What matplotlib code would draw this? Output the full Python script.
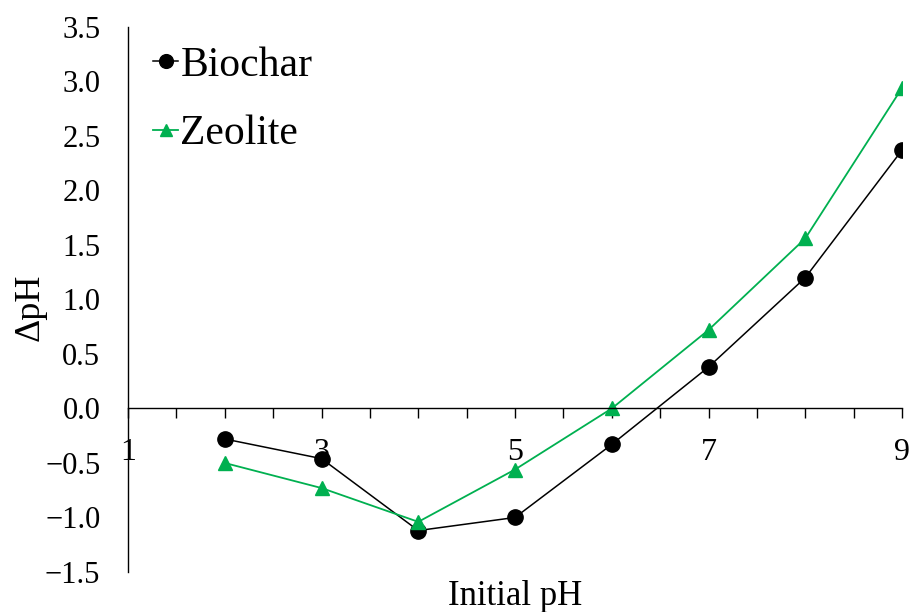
import matplotlib
matplotlib.use("Agg")
import matplotlib.pyplot as plt
from matplotlib.ticker import MultipleLocator, FuncFormatter

plt.rcParams['font.family'] = ['Liberation Serif', 'DejaVu Serif']

initial_ph = [2, 3, 4, 5, 6, 7, 8, 9]
biochar = [-0.28, -0.46, -1.12, -1.00, -0.33, 0.38, 1.20, 2.37]
zeolite = [-0.50, -0.73, -1.04, -0.56, 0.00, 0.72, 1.56, 2.94]
x_labels = [1, 3, 5, 7, 9]

green = '#00B050'

fig = plt.figure(figsize=(9.1, 6.12), dpi=100)
ax = fig.add_axes([0.1407, 0.0654, 0.8505, 0.8905])

ax.plot(initial_ph, biochar, color='black', lw=1.1, marker='o', ms=11,
        label='Biochar')
ax.plot(initial_ph, zeolite, color=green, lw=1.3, marker='^', ms=10,
        label='Zeolite')

ax.set_xlim(1, 9)
ax.set_ylim(-1.5, 3.5)

# horizontal axis sits on y = 0, vertical axis on the left
ax.spines['top'].set_visible(False)
ax.spines['right'].set_visible(False)
ax.spines['bottom'].set_position(('data', 0))
for s in ('left', 'bottom'):
    ax.spines[s].set_linewidth(1.0)

ax.xaxis.set_major_locator(MultipleLocator(0.5))
ax.xaxis.set_major_formatter(
    FuncFormatter(lambda v, p: f'{v:.0f}' if round(v, 3) in x_labels else ''))
ax.tick_params(axis='x', direction='out', length=7, width=1.0,
               labelsize=23, pad=14)

ax.yaxis.set_major_locator(MultipleLocator(0.5))
ax.yaxis.set_major_formatter(FuncFormatter(lambda v, p: f'{v:.1f}'.replace('-', '\u2212')))
ax.tick_params(axis='y', length=0, labelsize=22, pad=20)

ax.set_xlabel('Initial pH', fontsize=25)
ax.xaxis.set_label_coords(0.5, -0.045)
ax.xaxis.label.set_va('center')
ax.set_ylabel('ΔpH', fontsize=26)
ax.yaxis.set_label_coords(-0.126, 0.486)
ax.yaxis.label.set_va('center')

ax.legend(loc='upper left', bbox_to_anchor=(0.011, 0.995), frameon=False,
          fontsize=30, handlelength=0.6, handletextpad=0.05,
          labelspacing=0.72, borderaxespad=0, markerscale=0.9)

fig.savefig('out.png', dpi=100)
